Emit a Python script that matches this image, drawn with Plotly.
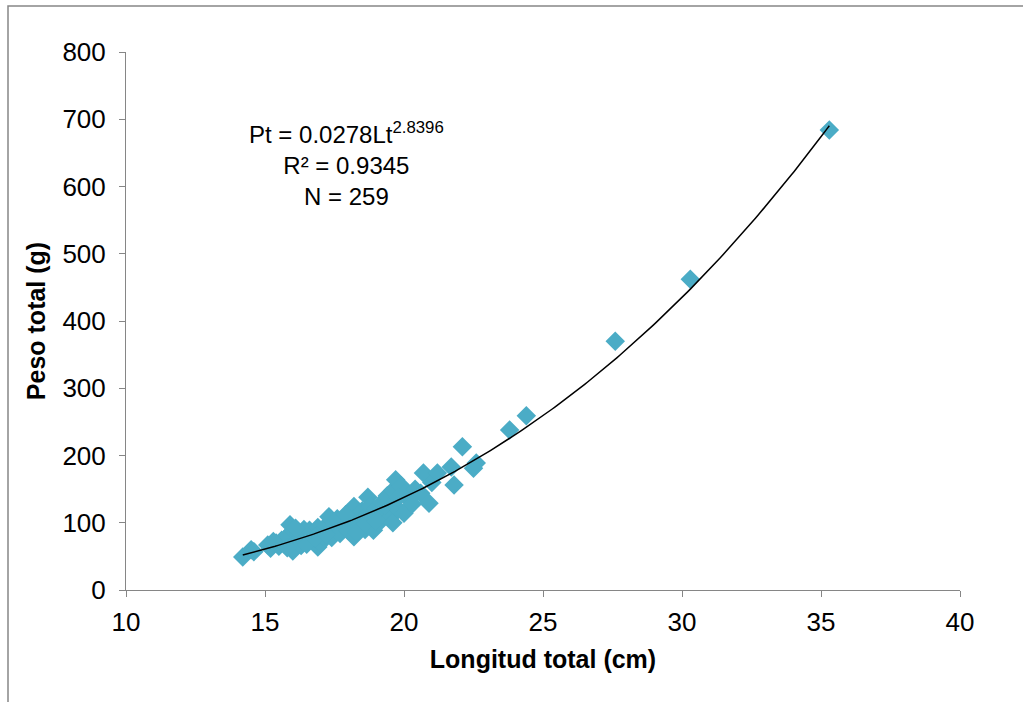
import numpy as np
import plotly.graph_objects as go

# Data
lt = [14.2, 14.5, 14.6, 15.1, 15.2, 15.4, 15.5, 15.6, 15.7, 15.8, 15.9, 16.0, 16.0, 16.1,
      16.2, 16.3, 16.3, 16.4, 16.5, 16.6, 16.7, 16.8, 16.9, 16.9, 17.0, 17.0, 17.1, 17.2,
      17.3, 17.3, 17.4, 17.5, 17.6, 17.7, 17.8, 17.9, 18.0, 18.0, 18.1, 18.2, 18.2, 18.3,
      18.4, 18.5, 18.5, 18.6, 18.7, 18.7, 18.8, 18.9, 18.9, 19.0, 19.1, 19.2, 19.3, 19.4,
      19.5, 19.5, 19.6, 19.6, 19.7, 19.7, 19.8, 19.9, 20.0, 20.0, 20.2, 20.4, 20.6, 20.7,
      20.9, 21.0, 21.2, 21.7, 21.8, 22.1, 22.5, 22.6, 23.8, 24.4, 27.6, 30.3, 35.3,
      15.3, 15.8, 16.1, 16.5, 16.8, 17.2, 17.6, 17.9, 18.3, 18.6, 19.0, 19.3, 19.8, 20.3]
pt = [49, 60, 57, 67, 62, 70, 65, 74, 68, 80, 97, 58, 88, 72,
      84, 66, 78, 90, 75, 89, 82, 70, 93, 64, 70, 86, 80, 96,
      109, 88, 78, 100, 92, 84, 105, 96, 115, 88, 102, 124, 79, 110,
      95, 118, 105, 90, 138, 112, 125, 89, 108, 120, 100, 130, 115, 140,
      125, 108, 100, 148, 164, 135, 120, 155, 114, 142, 135, 150, 144, 174,
      129, 160, 174, 183, 156, 213, 181, 189, 238, 259, 370, 462, 684,
      72, 63, 92, 68, 78, 82, 106, 112, 86, 98, 103, 126, 138, 128]

# Power trendline coefficients shown on the chart
coef_a = 0.0278
coef_b = 2.8396
x_ticks = [10, 15, 20, 25, 30, 35, 40]
y_ticks = [0, 100, 200, 300, 400, 500, 600, 700, 800]

xt = np.linspace(min(lt), max(lt), 200)
yt = coef_a * xt ** coef_b

fig = go.Figure()
fig.add_trace(go.Scatter(x=lt, y=pt, mode="markers",
                         marker=dict(symbol="diamond", size=15, color="#4BACC6",
                                     line=dict(width=0)),
                         showlegend=False))
fig.add_trace(go.Scatter(x=xt, y=yt, mode="lines",
                         line=dict(color="black", width=1.5), showlegend=False))

font = "Liberation Sans"
axis_common = dict(showgrid=False, zeroline=False, showline=True, linecolor="#868686",
                   linewidth=1, ticks="outside", ticklen=6, tickcolor="#868686",
                   tickfont=dict(family=font, size=26, color="black"))
fig.update_layout(
    width=1023, height=702,
    margin=dict(l=126, r=63, t=52, b=112),
    paper_bgcolor="white", plot_bgcolor="white",
    font=dict(family=font, color="black", size=24),
    xaxis=dict(range=[10, 40], tickvals=x_ticks, ticklabelstandoff=3,
               title=dict(text="<b>Longitud total (cm)</b>", font=dict(family=font, size=25), standoff=14),
               **axis_common),
    yaxis=dict(range=[0, 800], tickvals=y_ticks, ticklabelstandoff=8,
               title=dict(text="<b>Peso total (g)</b>", font=dict(family=font, size=25), standoff=9),
               **axis_common),
    shapes=[dict(type="rect", xref="paper", yref="paper",
                 x0=(8 - 126) / 834, x1=1.2, y0=-0.3, y1=(590 - 6) / 538,
                 line=dict(color="#868686", width=1.5), fillcolor="rgba(0,0,0,0)", layer="below")],
    annotations=[dict(xref="paper", yref="paper", x=(346 - 126) / 834, y=(590 - 116) / 538,
                      text="Pt = 0.0278Lt<sup>2.8396</sup><br>R² = 0.9345<br>N = 259",
                      showarrow=False, align="center", xanchor="center", yanchor="top",
                      font=dict(family=font, size=24, color="black"))]
)
fig.write_html("out.html")
